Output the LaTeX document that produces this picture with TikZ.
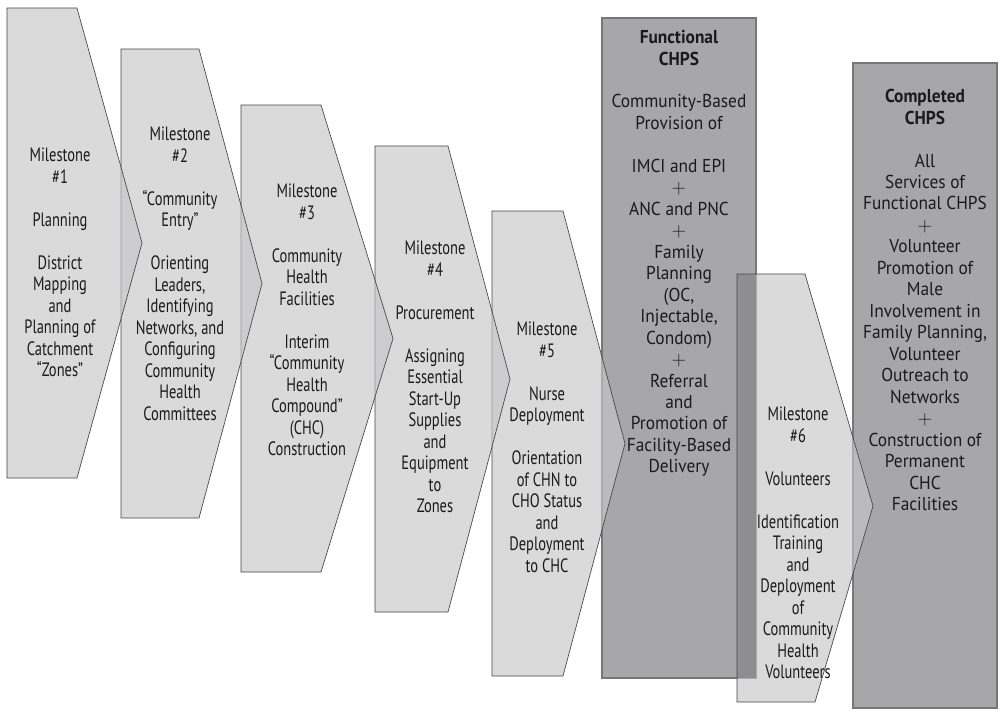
\documentclass[tikz,border=0pt]{standalone}
\usepackage{fontspec}
\newfontfamily\chevfont[FakeStretch=0.75]{PT Sans}
\newfontfamily\boxfont[FakeStretch=0.93]{PT Sans}

\definecolor{chevfill}{HTML}{C6C6C8}
\definecolor{chevline}{HTML}{454545}
\definecolor{boxfill}{HTML}{A7A7AA}
\definecolor{boxline}{HTML}{77777A}
\definecolor{deepstrip}{HTML}{8E8E90}
\definecolor{inktext}{HTML}{1A1A1A}

\newlength\gapsz
\setlength\gapsz{16.1pt}
\newcommand\gap{\\[\gapsz]}
\newcommand\plus{{\fontsize{15.5}{16.1}\selectfont$+$}}

% chevron: [style] left, top, shoulder x, tip x, bottom
\newcommand\chevron[6][]{%
  \draw[chev,#1] (#2,#3) -- (#4,#3) -- (#5,{(#3+#6)/2}) -- (#4,#6) -- (#2,#6) -- cycle;}

\begin{document}
\begin{tikzpicture}[x=0.75pt,y=-0.75pt,
  chev/.style={fill=chevfill, fill opacity=0.65, draw=chevline, line width=0.5pt, line join=miter},
  stage/.style={fill=boxfill, draw=boxline, line width=0.9pt},
  txt/.style={align=center, anchor=north, inner sep=0pt, text=inktext,
    font=\chevfont\fontsize{14.5}{16.1}\selectfont},
  boxtxt/.style={align=center, anchor=north, inner sep=0pt, text=inktext,
    font=\boxfont\fontsize{14}{16.1}\selectfont}]
\useasboundingbox (0,0) rectangle (1002,719);

% the two CHPS stages
\draw[stage] (853,63) rectangle (997,708);
\draw[stage] (602,18) rectangle (756,678);

% milestone 6 lies across the functional stage; its foot is cut short
\path[chev,draw=none] (737,274) -- (805,274) -- (873,506) -- (815,702) -- (737,702) -- cycle;
\fill[deepstrip] (737,274) rectangle (756,678);
\draw[chev,fill=none] (737,274) -- (805,274) -- (873,506) -- (815,702) -- (737,702) -- cycle;

% milestones 5 to 1, each drawn over the next
\chevron{492}{211}{563}{625}{676}
\chevron{375}{146}{448}{510}{612}
\chevron{241}{105}{321}{393}{572}
\chevron{121}{49}{199}{262}{518}
\chevron{7}{8}{77}{142}{478}

% milestone texts
\node[txt] (m1) at (60,148) {Milestone\\\#1\gap Planning\gap District\\Mapping\\and\\Planning of\\Catchment\\“Zones”};
\node[txt] (m2) at (180,127) {Milestone\\\#2\gap “Community\\Entry”\gap Orienting\\Leaders,\\Identifying\\Networks, and\\Configuring\\Community\\Health\\Committees};
\node[txt] (m3) at (307,184) {Milestone\\\#3\gap Community\\Health\\Facilities\gap Interim\\“Community\\Health\\Compound”\\(CHC)\\Construction};
\node[txt] (m4) at (435,241) {Milestone\\\#4\gap Procurement\gap Assigning\\Essential\\Start-Up\\Supplies\\and\\Equipment\\to\\Zones};
\node[txt] (m5) at (547,322) {Milestone\\\#5\gap Nurse\\Deployment\gap Orientation\\of CHN to\\CHO Status\\and\\Deployment\\to CHC};
\node[txt] (m6) at (798,407) {Milestone\\\#6\gap Volunteers\gap Identification\\Training\\and\\Deployment\\of\\Community\\Health\\Volunteers};

% stage texts
\node[boxtxt] (fn) at (679,30) {\bfseries Functional\\\bfseries CHPS\gap Community-Based\\Provision of\gap IMCI and EPI\\\plus\\ANC and PNC\\\plus\\Family\\Planning\\(OC,\\Injectable,\\Condom)\\\plus\\Referral\\and\\Promotion of\\Facility-Based\\Delivery};
\node[boxtxt] (cp) at (925,89) {\bfseries Completed\\\bfseries CHPS\gap All\\Services of\\Functional CHPS\\\plus\\Volunteer\\Promotion of\\Male\\Involvement in\\Family Planning,\\Volunteer\\Outreach to\\Networks\\\plus\\Construction of\\Permanent\\CHC\\Facilities};
\end{tikzpicture}
\end{document}
